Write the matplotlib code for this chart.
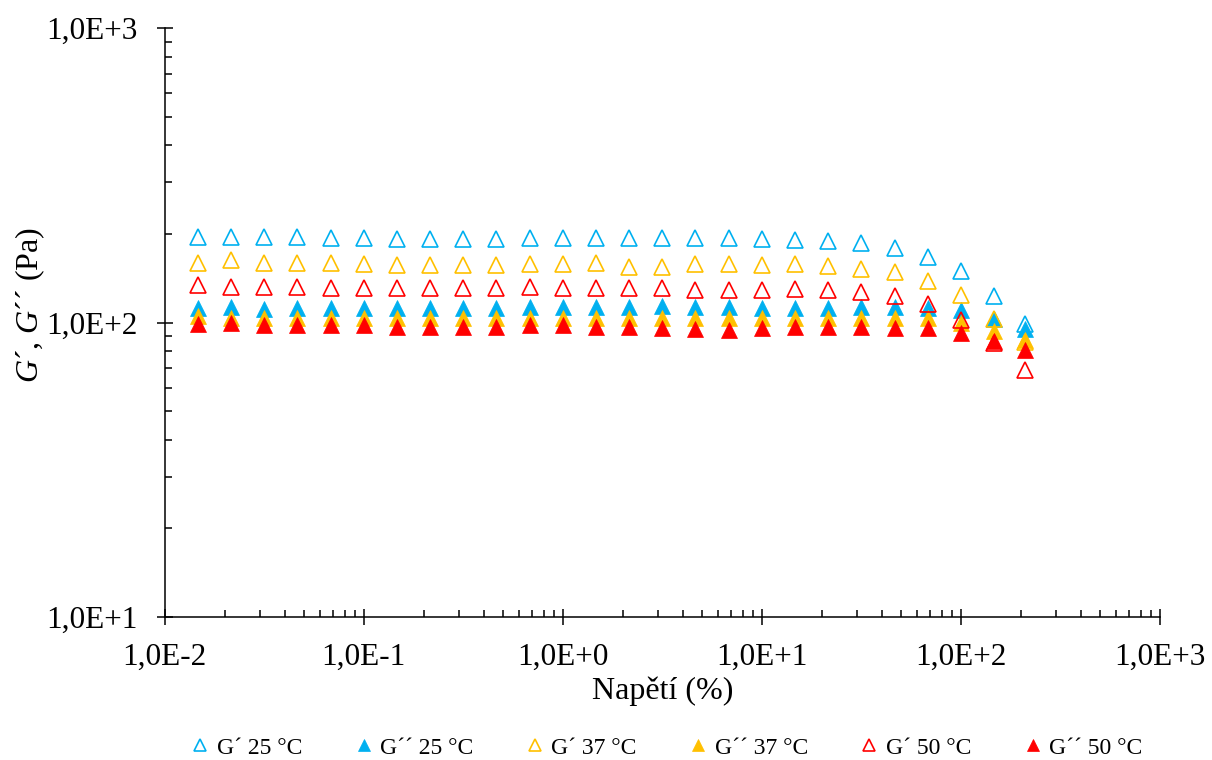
import matplotlib
matplotlib.use("Agg")
import matplotlib.pyplot as plt
from matplotlib.ticker import LogLocator, FixedLocator, NullFormatter

plt.rcParams['font.family'] = ['Liberation Serif', 'DejaVu Serif']
plt.rcParams['mathtext.fontset'] = 'custom'
plt.rcParams['mathtext.rm'] = 'Liberation Serif'
plt.rcParams['mathtext.it'] = 'Liberation Serif:italic'

# napětí (%)
napeti = [0.0147, 0.0215, 0.0316, 0.0464, 0.0681, 0.1, 0.147, 0.215, 0.316, 0.464,
          0.681, 1.0, 1.47, 2.15, 3.16, 4.64, 6.81, 10.0, 14.7, 21.5,
          31.6, 46.4, 68.1, 100.0, 147.0, 210.0]

# 25 °C
g1_25 = [195, 196, 195, 196, 194, 194, 193, 193, 193, 193, 194, 194, 194,
         194, 194, 194, 194, 192, 191, 189, 186, 179, 167, 150, 123, 99]
g2_25 = [112, 113, 111, 112, 112, 112, 112, 112, 112, 112, 113, 113, 113,
         113, 114, 113, 113, 112, 112, 112, 113, 113, 112, 110, 103, 95]
# 37 °C
g1_37 = [159, 163, 159, 159, 159, 158, 157, 157, 157, 157, 158, 158, 160,
         155, 155, 158, 158, 157, 158, 156, 152, 148, 138, 124, 103, 86]
g2_37 = [105, 104, 104, 104, 104, 104, 104, 104, 104, 104, 104, 104, 104,
         104, 104, 104, 104, 104, 104, 104, 104, 104, 104, 100, 94, 87]
# 50 °C
g1_50 = [134, 132, 132, 132, 131, 131, 131, 131, 131, 131, 132, 131, 131,
         131, 131, 129, 129, 129, 130, 129, 127, 123, 116, 102, 85, 69]
g2_50 = [99, 100, 98, 98, 98, 98, 97, 97, 97, 97, 98, 98, 97,
         97, 96, 95.5, 94.5, 96, 97, 96.5, 96.5, 96, 96, 92, 86.5, 81]

modra = '#00B0F0'
zluta = '#FFC000'
cervena = '#FF0000'

fig = plt.figure(figsize=(12.12, 7.6), dpi=100)
ax = fig.add_axes([0.136, 0.188, 0.821, 0.775])

ms = 11
ax.plot(napeti, g1_25, ls='none', marker='^', ms=ms, mfc='none', mec=modra, mew=1.2, label='G´ 25 °C')
ax.plot(napeti, g2_25, ls='none', marker='^', ms=ms, mfc=modra, mec=modra, mew=0.5, label='G´´ 25 °C')
ax.plot(napeti, g1_37, ls='none', marker='^', ms=ms, mfc='none', mec=zluta, mew=1.2, label='G´ 37 °C')
ax.plot(napeti, g2_37, ls='none', marker='^', ms=ms, mfc=zluta, mec=zluta, mew=0.5, label='G´´ 37 °C')
ax.plot(napeti, g1_50, ls='none', marker='^', ms=ms, mfc='none', mec=cervena, mew=1.2, label='G´ 50 °C')
ax.plot(napeti, g2_50, ls='none', marker='^', ms=ms, mfc=cervena, mec=cervena, mew=0.5, label='G´´ 50 °C')

ax.set_xscale('log')
ax.set_yscale('log')
ax.set_xlim(1e-2, 1e3)
ax.set_ylim(1e1, 1e3)

xt = [1e-2, 1e-1, 1e0, 1e1, 1e2, 1e3]
yt = [1e1, 1e2, 1e3]
ax.xaxis.set_major_locator(FixedLocator(xt))
ax.yaxis.set_major_locator(FixedLocator(yt))
ax.set_xticklabels(['1,0E-2', '1,0E-1', '1,0E+0', '1,0E+1', '1,0E+2', '1,0E+3'])
ax.set_yticklabels(['1,0E+1', '1,0E+2', '1,0E+3'])
ax.xaxis.set_minor_locator(LogLocator(base=10, subs=range(2, 10), numticks=20))
ax.yaxis.set_minor_locator(LogLocator(base=10, subs=range(2, 10), numticks=20))
ax.xaxis.set_minor_formatter(NullFormatter())
ax.yaxis.set_minor_formatter(NullFormatter())

ax.tick_params(which='major', direction='inout', length=11.5, width=1.1, labelsize=22.5)
ax.tick_params(axis='x', which='major', pad=13)
ax.tick_params(axis='y', which='major', pad=14)
ax.tick_params(which='minor', direction='in', length=5, width=1.1)

for s in ['top', 'right']:
    ax.spines[s].set_visible(False)
for s in ['left', 'bottom']:
    ax.spines[s].set_linewidth(1.1)

ax.set_xlabel('Napětí (%)', fontsize=23)
ax.set_ylabel('$G$´, $G$´´ (Pa)', fontsize=23)
ax.xaxis.set_label_coords(0.5, -0.1)
ax.yaxis.set_label_coords(-0.118, 0.53)

fig.legend(loc='center', bbox_to_anchor=(0.55, 0.016), ncol=6, frameon=False,
           fontsize=17, handlelength=0.8, handletextpad=0.3, columnspacing=2.2,
           markerscale=0.8)

fig.savefig('out.png', dpi=100)
